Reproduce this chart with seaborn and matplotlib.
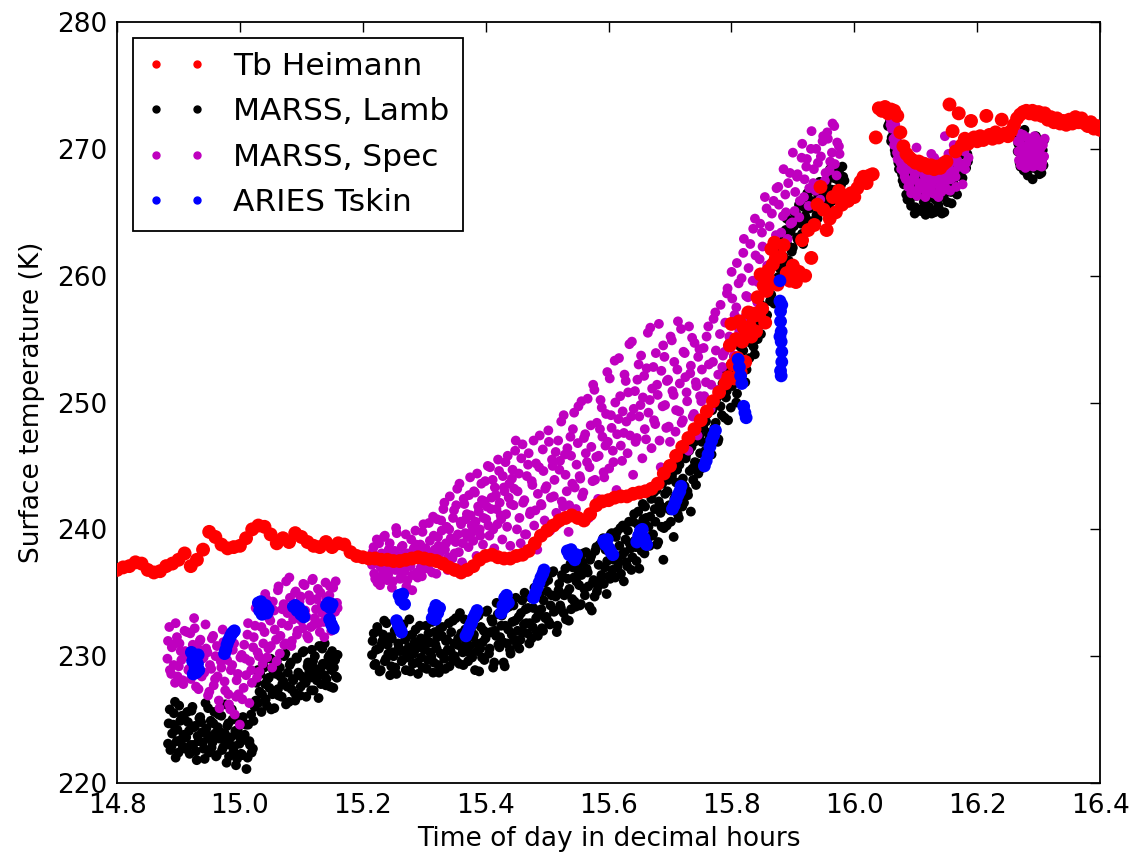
import numpy as np
import matplotlib
matplotlib.use("Agg")
import matplotlib.pyplot as plt
from matplotlib.lines import Line2D
import seaborn as sns

# ---------------------------------------------------------------
# Tb Heimann brightness temperature (K), evenly sampled segments
# ---------------------------------------------------------------
heim_seg1_span = (14.80, 15.79)
heim_seg1 = [236.8, 237.0, 237.1, 237.4, 237.3, 236.8, 236.6, 236.7, 237.1, 237.3,
             237.6, 238.1, 237.1, 237.6, 238.4, 239.8, 239.4, 238.8, 238.5, 238.6,
             238.7, 239.3, 240.0, 240.3, 240.2, 239.6, 238.9, 239.3, 239.0, 239.7,
             239.4, 239.0, 238.7, 238.6, 239.0, 238.6, 238.9, 238.8, 238.2, 237.9,
             237.8, 237.7, 237.7, 237.6, 237.6, 237.5, 237.5, 237.6, 237.7, 237.8,
             237.7, 237.6, 237.5, 237.3, 237.0, 236.8, 236.6, 236.8, 237.1, 237.6,
             237.9, 238.0, 237.8, 237.7, 237.7, 237.9, 238.0, 238.3, 238.9, 239.5,
             239.9, 240.3, 240.7, 240.9, 241.1, 240.9, 240.7, 241.2, 241.9, 242.2,
             242.3, 242.5, 242.6, 242.6, 242.8, 242.9, 243.0, 243.2, 243.6, 244.4,
             245.0, 245.8, 246.5, 247.2, 247.9, 248.6, 249.3, 250.1, 250.8, 251.5]
heim_seg2_span = (15.795, 15.875)
heim_seg2 = [252.0, 254.5, 256.2, 253.0, 251.9, 255.0, 253.5, 256.4, 252.4, 254.8,
             255.9, 253.2, 255.5, 257.1, 256.0, 255.2, 256.8, 257.0, 255.6, 258.3,
             256.9, 260.1, 257.4, 259.2, 256.3, 258.8, 260.4, 259.6, 262.1, 260.9,
             262.6, 261.4, 259.3]
heim_seg3_span = (15.88, 16.03)
heim_seg3 = [261.5, 262.4, 260.2, 259.6, 260.8, 259.5, 260.3, 262.8, 260.0, 263.6,
             261.4, 264.0, 265.6, 267.0, 265.2, 263.6, 264.5, 266.2, 265.0, 266.7,
             265.6, 266.3, 265.9, 266.5, 266.2, 266.9, 267.4, 267.8, 267.3, 267.9,
             268.0]
heim_seg4_span = (16.035, 16.40)
heim_seg4 = [270.9, 273.2, 273.0, 273.3, 272.8, 273.1, 273.0, 272.6, 271.3, 270.2,
             269.6, 269.3, 269.1, 268.9, 269.0, 268.7, 268.8, 268.5, 268.7, 268.4,
             268.6, 268.5, 268.8, 269.0, 273.5, 271.4, 269.8, 272.8, 270.3, 270.8,
             270.4, 272.2, 270.9, 270.6, 271.0, 270.7, 272.6, 271.1, 270.8, 271.3,
             270.9, 272.3, 271.2, 271.0, 271.4, 271.9, 272.4, 272.7, 272.9, 273.0,
             272.8, 273.0, 272.7, 272.9, 272.6, 272.8, 272.3, 272.5, 272.1, 272.4,
             272.0, 272.2, 271.9, 272.3, 272.0, 272.5, 272.1, 272.4, 272.0, 271.8,
             272.1, 271.6, 271.8, 271.5]

# ---------------------------------------------------------------
# MARSS, Lambertian retrieval (K): two interleaved scan views
# ---------------------------------------------------------------
lamb_seg1_span = (14.883, 15.022)
lamb_seg1 = [223.1, 225.8, 222.9, 224.6, 226.4, 223.3, 222.4, 224.9, 225.3, 223.8,
             222.7, 225.6, 224.1, 223.0, 226.0, 224.4, 222.5, 223.7, 225.1, 224.8,
             223.2, 221.9, 224.3, 225.9, 223.5, 222.8, 224.7, 223.9, 222.2, 225.4,
             224.0, 222.6, 223.4, 226.2, 224.5, 222.1, 223.6, 225.0, 222.9, 221.4,
             224.2, 223.1, 222.3, 225.2, 223.8, 221.1, 224.6, 223.0, 222.4, 224.9]
lamb_seg1b_span = (14.884, 15.024)
lamb_seg1b = [224.7, 222.6, 223.9, 225.5, 222.0, 224.2, 226.1, 223.4, 222.9, 225.0,
              223.6, 224.8, 222.3, 225.7, 223.0, 224.5, 221.8, 223.3, 225.2, 224.0,
              222.7, 226.3, 223.8, 222.4, 224.9, 223.2, 225.6, 222.1, 224.4, 223.5,
              225.3, 222.8, 223.9, 221.6, 224.7, 223.0, 225.8, 222.5, 224.1, 221.9,
              223.7, 225.1, 222.2, 223.4, 224.6, 222.0, 223.3, 225.4, 222.7, 226.0]
lamb_seg2_span = (15.026, 15.158)
lamb_seg2 = [226.5, 228.9, 227.2, 225.6, 229.4, 227.8, 226.1, 228.3, 229.8, 227.0,
             225.9, 228.6, 227.4, 229.1, 226.8, 228.0, 230.2, 227.6, 226.4, 229.5,
             228.2, 227.1, 229.9, 228.7, 226.9, 228.4, 230.4, 227.9, 229.2, 228.8,
             227.3, 229.6, 230.0, 228.1, 226.7, 229.0, 230.6, 228.5, 227.7, 229.3,
             230.1, 228.9, 227.5, 229.7, 228.3]
lamb_seg2b_span = (15.027, 15.159)
lamb_seg2b = [227.9, 226.3, 228.6, 227.0, 229.1, 226.6, 228.2, 227.5, 225.8, 228.9,
              227.2, 229.6, 226.9, 228.4, 227.8, 230.0, 226.2, 228.7, 229.3, 227.4,
              228.1, 226.5, 229.8, 228.5, 227.6, 230.3, 228.0, 226.8, 229.5, 228.3,
              230.5, 227.3, 229.0, 228.6, 230.8, 227.8, 229.4, 231.0, 228.2, 229.9,
              227.6, 230.4, 229.1, 228.4, 230.1]
lamb_seg3_span = (15.215, 15.468)
lamb_seg3 = [230.1, 231.8, 229.4, 232.3, 230.6, 228.9, 231.2, 232.8, 229.8, 230.9,
             231.5, 229.2, 230.3, 232.0, 228.6, 231.0, 230.4, 229.6, 232.5, 231.3,
             229.9, 230.7, 228.8, 231.7, 230.2, 232.1, 229.5, 230.8, 231.4, 229.1,
             230.5, 232.4, 229.7, 231.1, 230.0, 228.7, 231.9, 230.6, 229.3, 232.2,
             231.6, 230.1, 229.0, 231.3, 232.6, 230.4, 229.8, 231.0, 233.0, 230.9,
             229.4, 231.8, 230.3, 232.9, 231.2, 229.6, 230.8, 232.3, 231.5, 228.9,
             231.0, 233.2, 230.6, 229.9, 232.0, 231.4, 233.6, 230.2, 231.9, 232.7,
             229.5, 231.6, 233.3, 230.7, 232.4, 231.1, 229.2, 233.8, 232.1, 230.5,
             231.7, 234.0, 232.8, 230.9, 233.1, 231.3, 234.4, 232.5, 233.7, 231.8]
lamb_seg3b_span = (15.216, 15.469)
lamb_seg3b = [231.2, 229.3, 230.5, 232.0, 228.8, 230.9, 231.7, 229.6, 232.6, 230.2,
              228.5, 231.4, 230.0, 229.1, 232.2, 230.7, 231.9, 229.7, 230.4, 228.9,
              231.6, 232.9, 230.1, 229.4, 231.1, 230.6, 228.6, 232.4, 229.9, 231.3,
              230.8, 229.0, 231.8, 230.3, 232.7, 229.5, 230.9, 231.5, 228.7, 230.2,
              232.3, 229.8, 231.2, 230.5, 229.2, 231.9, 232.8, 230.0, 229.6, 231.4,
              233.4, 230.7, 229.3, 232.1, 231.0, 230.3, 232.6, 229.9, 231.7, 233.0,
              230.4, 228.8, 232.3, 231.1, 229.7, 233.5, 231.8, 230.6, 232.9, 229.1,
              232.0, 234.2, 230.9, 231.5, 233.2, 229.5, 232.4, 231.0, 233.9, 230.2,
              232.7, 231.3, 234.6, 232.0, 230.6, 233.4, 231.9, 235.0, 232.6, 233.8]
lamb_seg4_span = (15.471, 15.748)
lamb_seg4 = [231.0, 234.6, 232.3, 235.4, 233.0, 231.6, 234.9, 233.7, 232.0, 235.8,
             233.1, 236.0, 232.5, 234.8, 236.7, 233.6, 231.9, 235.2, 234.0, 236.4,
             233.4, 236.9, 235.0, 232.8, 237.3, 234.5, 236.2, 233.9, 237.8, 235.6,
             234.1, 237.4, 235.3, 238.2, 236.6, 233.9, 237.9, 235.8, 234.7, 238.6,
             235.5, 238.8, 236.4, 239.3, 237.0, 234.9, 238.3, 236.1, 239.7, 237.6,
             236.2, 239.8, 237.4, 240.1, 238.0, 235.9, 239.2, 237.1, 240.6, 238.5,
             237.8, 241.2, 238.6, 240.4, 236.9, 239.9, 242.0, 238.1, 240.9, 239.3,
             238.7, 242.4, 239.6, 241.6, 243.1, 239.0, 241.9, 240.2, 237.6, 242.8,
             240.3, 243.9, 241.5, 244.2, 239.4, 242.6, 244.7, 240.9, 243.3, 241.8,
             242.1, 245.6, 243.0, 246.2, 241.4, 244.8, 246.9, 243.5, 245.2, 247.4]
lamb_seg4b_span = (15.472, 15.749)
lamb_seg4b = [232.6, 231.4, 233.8, 234.9, 231.9, 233.3, 236.0, 232.2, 234.4, 233.0,
              235.1, 232.7, 234.0, 236.6, 233.5, 234.7, 232.4, 235.7, 233.8, 236.2,
              234.8, 232.9, 236.1, 235.3, 233.7, 237.0, 234.3, 235.9, 236.8, 234.0,
              236.4, 238.1, 234.8, 236.9, 235.5, 237.6, 233.6, 236.0, 238.3, 235.1,
              237.2, 236.0, 239.0, 235.7, 238.4, 237.5, 236.3, 239.6, 236.8, 238.0,
              239.4, 237.0, 238.7, 236.5, 240.3, 238.2, 237.4, 239.9, 238.9, 236.8,
              240.6, 239.1, 237.5, 241.4, 239.7, 238.3, 240.8, 241.8, 239.0, 240.2,
              241.0, 239.5, 242.9, 240.6, 238.8, 242.2, 241.3, 243.6, 240.1, 241.7,
              243.0, 241.9, 240.6, 244.5, 242.4, 243.7, 241.2, 245.1, 242.8, 244.0,
              243.4, 245.9, 242.7, 244.6, 246.5, 243.9, 245.3, 247.8, 244.4, 246.0]
lamb_seg5_span = (15.751, 15.982)
lamb_seg5 = [244.8, 248.0, 246.2, 249.1, 247.3, 245.9, 249.8, 248.4, 246.9, 250.6,
             249.0, 252.2, 250.4, 248.6, 252.9, 251.3, 253.6, 250.0, 252.5, 254.4,
             253.0, 255.8, 252.6, 256.3, 254.7, 257.1, 253.8, 256.0, 258.2, 255.4,
             257.6, 259.8, 256.9, 260.4, 258.5, 261.2, 259.3, 262.0, 260.6, 263.1,
             261.5, 263.6, 262.4, 264.3, 261.9, 263.9, 265.0, 262.8, 264.6, 263.3,
             265.4, 264.0, 266.1, 263.7, 265.6, 266.7, 264.8, 266.3, 265.2, 267.0,
             266.0, 267.4, 265.5, 266.8, 267.9, 266.4, 267.6, 268.1, 267.2, 267.8]
lamb_seg5b_span = (15.752, 15.984)
lamb_seg5b = [246.9, 245.3, 248.5, 247.6, 246.0, 249.4, 248.0, 250.3, 247.1, 249.7,
              251.5, 248.8, 250.9, 252.6, 249.6, 251.8, 253.3, 250.7, 254.8, 252.0,
              254.1, 251.6, 255.3, 253.5, 257.0, 254.4, 256.7, 255.0, 257.8, 256.2,
              258.9, 256.5, 259.6, 258.0, 260.9, 257.8, 261.9, 259.9, 262.7, 261.0,
              262.6, 264.5, 261.2, 263.5, 262.2, 264.9, 263.0, 265.6, 264.1, 262.5,
              264.7, 266.5, 265.3, 264.3, 266.9, 265.9, 264.5, 267.4, 266.6, 265.8,
              267.2, 266.3, 268.4, 265.9, 267.7, 266.8, 268.2, 267.0, 268.6, 267.5]
lamb_seg6_span = (16.055, 16.185)
lamb_seg6 = [271.8, 272.3, 270.9, 271.2, 269.6, 270.3, 268.4, 269.1, 267.5, 268.6,
             266.4, 267.8, 265.9, 267.0, 268.2, 265.4, 266.6, 267.4, 265.1, 266.9,
             268.0, 265.6, 267.2, 266.2, 264.9, 267.6, 266.0, 268.4, 265.3, 267.1,
             266.5, 265.0, 267.9, 266.8, 268.7, 265.7, 267.3, 269.2, 266.4, 268.1,
             269.6, 267.7, 270.2, 268.5, 269.0]
lamb_seg6b_span = (16.057, 16.187)
lamb_seg6b = [272.0, 270.6, 271.5, 269.9, 270.8, 268.9, 269.8, 268.0, 267.2, 268.9,
              266.0, 267.5, 265.5, 266.9, 264.9, 266.3, 267.9, 265.2, 266.7, 265.8,
              264.8, 267.0, 265.4, 266.4, 268.1, 265.0, 266.8, 265.6, 267.7, 264.9,
              266.2, 268.3, 265.8, 267.4, 266.6, 268.6, 267.1, 269.0, 267.9, 269.5,
              268.3, 270.0, 268.8, 269.6, 270.4]
lamb_seg7_span = (16.266, 16.308)
lamb_seg7 = [269.8, 271.0, 268.6, 270.3, 269.1, 271.5, 268.2, 269.9, 270.7, 268.9,
             270.0, 267.6, 269.4, 270.9, 268.4, 269.7, 268.0, 270.4, 269.2, 268.7]
lamb_seg7b_span = (16.267, 16.309)
lamb_seg7b = [270.4, 268.9, 269.6, 271.2, 268.3, 270.1, 269.4, 267.9, 270.6, 269.0,
              268.5, 270.2, 269.7, 271.0, 268.8, 270.3, 269.3, 268.1, 269.9, 270.7]

# ---------------------------------------------------------------
# MARSS, specular retrieval (K): two interleaved scan views
# ---------------------------------------------------------------
spec_seg1_span = (14.882, 15.158)
spec_seg1 = [229.8, 232.3, 228.6, 230.9, 227.9, 231.5, 229.2, 230.4, 228.1, 232.0,
             230.0, 228.9, 231.8, 229.5, 233.0, 227.6, 230.6, 231.2, 228.4, 229.9,
             232.5, 230.3, 227.2, 229.0, 231.6, 228.2, 230.8, 226.5, 229.6, 232.1,
             228.0, 230.5, 227.0, 225.8, 229.3, 231.0, 226.8, 228.6, 224.6, 230.1,
             227.5, 229.8, 231.7, 226.3, 228.9, 230.7, 232.4, 228.3, 230.0, 233.3,
             229.4, 231.9, 234.5, 230.6, 232.8, 229.1, 233.6, 231.3, 235.2, 230.2,
             232.6, 234.1, 231.0, 233.4, 236.2, 230.8, 232.9, 235.0, 231.7, 233.9,
             234.7, 232.2, 235.6, 233.1, 231.4, 234.4, 236.0, 232.5, 233.7, 235.3,
             231.9, 234.0, 232.7, 235.8, 233.2, 234.8, 232.0, 235.4, 233.5, 234.2]
spec_seg1b_span = (14.883, 15.159)
spec_seg1b = [231.2, 228.9, 230.7, 229.3, 232.6, 228.4, 231.0, 229.7, 227.8, 230.4,
              231.9, 229.0, 228.2, 230.9, 232.2, 229.5, 227.4, 231.3, 229.8, 228.7,
              230.6, 226.9, 229.3, 231.4, 227.7, 230.0, 228.4, 225.9, 229.1, 231.1,
              227.3, 229.7, 226.2, 228.9, 230.5, 225.4, 228.1, 227.0, 229.9, 226.6,
              230.9, 228.5, 232.6, 229.6, 227.9, 231.5, 233.8, 230.3, 228.8, 232.3,
              231.0, 234.9, 229.9, 233.0, 230.8, 234.3, 232.1, 229.6, 235.5, 231.6,
              233.7, 230.9, 235.9, 232.4, 234.6, 231.2, 233.3, 235.1, 232.0, 234.3,
              232.8, 235.7, 233.6, 231.6, 234.8, 232.3, 236.1, 233.0, 234.5, 232.6,
              235.0, 233.4, 231.5, 234.6, 233.0, 235.5, 232.4, 234.1, 235.9, 233.8]
spec_seg2_span = (15.215, 15.448)
spec_seg2 = [237.2, 238.6, 236.1, 239.2, 237.8, 235.6, 238.1, 236.7, 239.5, 237.0,
             236.4, 238.9, 237.5, 235.9, 238.3, 240.1, 236.8, 237.9, 236.2, 238.7,
             237.3, 239.6, 236.0, 238.0, 237.1, 235.2, 238.5, 239.9, 236.6, 237.7,
             238.8, 236.3, 240.4, 237.4, 238.2, 236.9, 239.1, 237.6, 241.0, 238.4,
             236.5, 239.4, 238.1, 240.7, 237.2, 242.1, 238.9, 236.8, 240.0, 239.3,
             237.7, 241.5, 239.0, 243.2, 238.2, 240.6, 237.4, 242.4, 239.7, 241.2,
             238.6, 244.1, 240.3, 239.1, 242.9, 237.9, 241.8, 240.0, 243.6, 238.8,
             242.2, 240.8, 245.0, 239.5, 241.6, 243.9, 238.5, 242.7, 240.4, 244.6,
             241.1, 239.2, 243.3, 245.3, 240.2, 242.5, 238.7, 244.0, 241.9, 246.2]
spec_seg2b_span = (15.216, 15.449)
spec_seg2b = [238.2, 236.5, 237.7, 235.8, 238.9, 237.0, 236.3, 239.4, 237.5, 236.0,
              238.4, 237.1, 235.4, 238.0, 236.8, 239.7, 237.4, 236.1, 238.6, 237.9,
              236.7, 235.5, 238.1, 237.3, 239.2, 236.4, 237.8, 238.8, 236.2, 238.3,
              237.0, 239.8, 236.9, 238.5, 237.5, 240.5, 238.0, 236.6, 239.5, 237.9,
              240.8, 238.7, 237.3, 239.9, 241.6, 238.4, 240.2, 237.8, 242.6, 239.2,
              240.9, 238.1, 241.9, 239.6, 243.6, 240.4, 238.9, 242.0, 240.8, 239.4,
              242.7, 241.1, 239.8, 243.0, 240.6, 244.4, 241.4, 239.5, 242.3, 240.9,
              243.8, 241.8, 240.3, 244.9, 242.5, 240.0, 243.3, 241.6, 245.5, 242.1,
              240.8, 244.2, 243.0, 241.2, 245.8, 243.6, 242.0, 244.7, 243.2, 247.0]
spec_seg3_span = (15.451, 15.748)
spec_seg3 = [240.0, 244.4, 238.9, 246.7, 242.3, 239.6, 245.1, 241.2, 243.8, 247.0,
             241.5, 238.4, 244.9, 242.0, 246.3, 240.7, 243.4, 247.8, 239.9, 245.5,
             242.6, 246.1, 240.4, 244.7, 248.5, 241.8, 245.9, 243.0, 239.8, 247.3,
             243.6, 249.2, 241.6, 246.8, 244.2, 250.1, 242.9, 247.5, 245.3, 240.9,
             248.2, 243.8, 251.0, 245.7, 242.4, 247.9, 249.6, 244.5, 246.6, 252.4,
             244.8, 249.0, 246.2, 253.3, 243.1, 248.7, 250.5, 245.4, 247.6, 251.7,
             246.0, 254.6, 248.9, 244.3, 250.9, 247.2, 253.0, 249.8, 245.6, 252.1,
             247.1, 255.5, 250.2, 246.4, 252.8, 248.3, 251.4, 256.2, 244.9, 249.7,
             253.6, 248.0, 251.8, 246.9, 254.9, 250.6, 247.7, 252.6, 249.3, 255.8,
             248.6, 253.9, 250.8, 246.2, 252.3, 255.1, 249.1, 251.6, 247.4, 254.2]
spec_seg3b_span = (15.452, 15.749)
spec_seg3b = [243.0, 240.9, 245.6, 242.1, 239.6, 244.2, 246.0, 241.4, 243.5, 240.3,
              245.2, 242.8, 247.4, 241.9, 244.6, 243.2, 239.9, 246.9, 242.5, 245.0,
              243.9, 241.3, 247.0, 245.4, 242.2, 249.0, 244.3, 246.4, 241.9, 245.8,
              247.9, 243.3, 245.1, 249.7, 244.0, 242.6, 247.2, 246.0, 250.3, 244.9,
              246.5, 251.4, 243.9, 248.4, 245.8, 250.2, 247.3, 244.1, 249.1, 246.9,
              251.9, 248.0, 245.3, 250.0, 247.5, 253.5, 246.6, 249.3, 252.2, 248.5,
              250.8, 247.4, 254.8, 249.5, 246.9, 251.8, 248.9, 253.7, 250.4, 247.9,
              252.7, 249.2, 255.9, 251.1, 248.6, 253.9, 250.6, 247.0, 252.5, 254.5,
              249.8, 251.7, 248.1, 255.2, 250.9, 253.2, 249.4, 256.4, 251.5, 248.4,
              254.0, 252.0, 250.1, 256.0, 252.9, 248.9, 254.7, 251.3, 253.6, 250.5]
spec_seg4_span = (15.751, 15.975)
spec_seg4 = [250.1, 254.3, 251.6, 256.0, 249.5, 253.2, 257.1, 251.0, 255.4, 252.8,
             254.0, 258.6, 255.2, 260.3, 253.7, 257.5, 259.4, 255.9, 261.8, 256.8,
             258.3, 262.5, 259.6, 264.5, 257.9, 261.3, 263.4, 259.1, 265.3, 260.7,
             262.0, 265.9, 263.2, 267.0, 261.6, 264.7, 266.4, 262.9, 268.1, 264.2,
             265.1, 267.8, 264.6, 269.3, 266.2, 268.6, 265.5, 270.0, 267.3, 266.7,
             268.9, 266.0, 270.6, 267.5, 271.3, 268.3, 269.7, 271.8, 267.9, 270.2]
spec_seg4b_span = (15.752, 15.976)
spec_seg4b = [252.6, 250.5, 255.2, 253.0, 251.4, 256.6, 254.1, 252.2, 257.7, 253.7,
              256.3, 259.0, 254.8, 258.2, 256.9, 261.0, 255.6, 259.8, 262.9, 258.4,
              260.6, 257.2, 263.7, 261.6, 259.5, 264.1, 262.3, 266.2, 260.8, 263.9,
              264.9, 262.7, 266.9, 265.6, 263.4, 268.4, 265.0, 267.3, 264.1, 269.7,
              266.6, 268.0, 265.9, 270.4, 267.6, 269.2, 266.9, 271.4, 268.4, 270.0,
              267.2, 269.4, 271.0, 268.1, 270.8, 269.0, 272.0, 268.8, 270.5, 269.6]
spec_seg5_span = (16.058, 16.185)
spec_seg5 = [272.4, 271.6, 270.8, 271.9, 269.7, 270.4, 268.9, 269.5, 268.1, 267.6,
             268.8, 267.1, 266.5, 268.3, 267.9, 270.1, 266.8, 268.5, 267.3, 269.0,
             266.2, 267.7, 268.7, 266.9, 267.4, 269.3, 266.4, 268.0, 267.0, 266.6,
             268.4, 271.0, 267.5, 269.6, 266.7, 268.2, 270.3, 267.8, 269.1, 268.6,
             270.0, 267.2, 269.8, 268.9, 270.5]
spec_seg5b_span = (16.059, 16.186)
spec_seg5b = [271.9, 272.2, 270.3, 271.0, 269.2, 270.0, 268.4, 269.1, 267.8, 268.5,
              267.0, 269.3, 266.7, 267.6, 268.1, 266.3, 267.3, 268.9, 266.9, 267.9,
              266.6, 268.3, 267.1, 269.6, 266.5, 267.7, 268.5, 266.2, 267.5, 269.0,
              267.3, 268.0, 266.8, 268.7, 267.6, 269.4, 268.2, 267.0, 268.8, 270.2,
              268.6, 269.9, 268.4, 270.7, 269.3]
spec_seg6_span = (16.266, 16.310)
spec_seg6 = [270.6, 269.1, 271.2, 268.8, 270.0, 269.5, 268.5, 270.9, 269.3, 268.9,
             270.3, 269.8, 268.6, 271.0, 269.0, 270.4, 268.7, 269.6, 270.1, 268.9,
             269.4, 270.8]
spec_seg6b_span = (16.267, 16.309)
spec_seg6b = [269.8, 270.5, 268.7, 269.9, 271.1, 269.2, 270.2, 268.6, 269.6, 270.7,
              269.0, 268.8, 270.1, 269.5, 270.9, 268.9, 269.7, 270.4, 269.1, 268.6,
              270.3, 269.4]

# ---------------------------------------------------------------
# ARIES skin temperature (K): short bursts of samples
# ---------------------------------------------------------------
aries_time = [14.921, 14.923, 14.925, 14.927, 14.929, 14.931, 14.933, 14.924, 14.928, 14.932,
              14.975, 14.977, 14.979, 14.981, 14.983, 14.985, 14.987, 14.989, 14.991,
              15.030, 15.032, 15.034, 15.036, 15.038, 15.040, 15.042, 15.044, 15.046,
              15.087, 15.090, 15.093, 15.096, 15.099, 15.102, 15.104,
              15.141, 15.144, 15.147, 15.150, 15.146, 15.149, 15.152,
              15.259, 15.262, 15.265, 15.268, 15.255, 15.258, 15.261, 15.263,
              15.313, 15.316, 15.319, 15.322, 15.325, 15.318,
              15.368, 15.371, 15.374, 15.377, 15.380, 15.383, 15.386,
              15.425, 15.428, 15.431, 15.434, 15.437, 15.430,
              15.478, 15.481, 15.484, 15.487, 15.490, 15.493, 15.495,
              15.533, 15.536, 15.539, 15.542, 15.545, 15.548,
              15.592, 15.595, 15.598, 15.601, 15.604, 15.607,
              15.646, 15.649, 15.652, 15.655, 15.658, 15.662,
              15.704, 15.707, 15.710, 15.713, 15.716, 15.718,
              15.756, 15.759, 15.762, 15.765, 15.768, 15.771, 15.774,
              15.811, 15.813, 15.815, 15.817,
              15.820, 15.822, 15.824,
              15.879, 15.879, 15.880, 15.880, 15.881, 15.881, 15.882, 15.882, 15.880, 15.881,
              15.879, 15.882]
aries_temp = [230.3, 229.6, 230.0, 229.1, 228.7, 229.4, 228.9, 228.6, 229.8, 230.1,
              230.2, 230.5, 230.9, 231.2, 231.4, 231.6, 231.8, 231.9, 232.0,
              234.2, 233.6, 234.3, 233.3, 233.9, 233.5, 234.0, 233.4, 233.7,
              233.9, 234.0, 233.6, 233.8, 233.3, 233.5, 233.1,
              234.0, 234.2, 233.8, 234.1, 232.9, 232.5, 232.2,
              234.8, 234.4, 234.9, 234.1, 232.8, 232.4, 232.1, 231.9,
              233.0, 233.6, 234.0, 233.4, 233.8, 232.9,
              231.6, 231.9, 232.3, 232.6, 233.0, 233.3, 233.6,
              233.4, 234.0, 234.6, 234.8, 234.2, 233.8,
              234.6, 235.0, 235.4, 235.8, 236.2, 236.5, 236.8,
              238.3, 238.0, 238.4, 237.8, 237.6, 238.0,
              239.1, 238.8, 239.2, 238.5, 238.2, 238.0,
              239.0, 239.5, 239.9, 240.0, 239.3, 238.8,
              241.6, 241.9, 242.3, 242.7, 243.0, 243.4,
              245.0, 245.4, 245.9, 246.5, 247.0, 247.4, 247.8,
              253.4, 252.8, 252.1, 251.5,
              249.7, 249.2, 248.8,
              259.6, 258.0, 257.2, 256.4, 255.6, 254.8, 254.0, 253.2, 252.5, 252.1,
              255.2, 257.7]

series_labels = ["Tb Heimann", "MARSS, Lamb", "MARSS, Spec", "ARIES Tskin"]
series_colors = ["#ff0000", "#000000", "#bf00bf", "#0000ff"]
x_ticks = [14.8, 15.0, 15.2, 15.4, 15.6, 15.8, 16.0, 16.2, 16.4]
y_ticks = [220, 230, 240, 250, 260, 270, 280]


def sampled(segments):
    """Join evenly sampled segments into (time, value) arrays."""
    t_parts, v_parts = [], []
    for (t0, t1), vals in segments:
        t_parts.append(np.linspace(t0, t1, len(vals)))
        v_parts.append(np.asarray(vals, dtype=float))
    return np.concatenate(t_parts), np.concatenate(v_parts)


heim_t, heim_v = sampled([(heim_seg1_span, heim_seg1), (heim_seg2_span, heim_seg2),
                          (heim_seg3_span, heim_seg3), (heim_seg4_span, heim_seg4)])
lamb_t, lamb_v = sampled([(lamb_seg1_span, lamb_seg1), (lamb_seg1b_span, lamb_seg1b),
                          (lamb_seg2_span, lamb_seg2), (lamb_seg2b_span, lamb_seg2b),
                          (lamb_seg3_span, lamb_seg3), (lamb_seg3b_span, lamb_seg3b),
                          (lamb_seg4_span, lamb_seg4), (lamb_seg4b_span, lamb_seg4b),
                          (lamb_seg5_span, lamb_seg5), (lamb_seg5b_span, lamb_seg5b),
                          (lamb_seg6_span, lamb_seg6), (lamb_seg6b_span, lamb_seg6b),
                          (lamb_seg7_span, lamb_seg7), (lamb_seg7b_span, lamb_seg7b)])
spec_t, spec_v = sampled([(spec_seg1_span, spec_seg1), (spec_seg1b_span, spec_seg1b),
                          (spec_seg2_span, spec_seg2), (spec_seg2b_span, spec_seg2b),
                          (spec_seg3_span, spec_seg3), (spec_seg3b_span, spec_seg3b),
                          (spec_seg4_span, spec_seg4), (spec_seg4b_span, spec_seg4b),
                          (spec_seg5_span, spec_seg5), (spec_seg5b_span, spec_seg5b),
                          (spec_seg6_span, spec_seg6), (spec_seg6b_span, spec_seg6b)])
aries_t = np.asarray(aries_time)
aries_v = np.asarray(aries_temp)

sns.set_theme(style="white")
plt.rcParams["font.family"] = ["DejaVu Sans"]
plt.rcParams.update({
    "text.color": "black", "axes.labelcolor": "black",
    "xtick.direction": "in", "ytick.direction": "in",
    "xtick.top": True, "ytick.right": True,
    "xtick.major.size": 7, "ytick.major.size": 7,
    "xtick.major.width": 1.0, "ytick.major.width": 1.0,
    "xtick.color": "black", "ytick.color": "black",
    "xtick.labelcolor": "black", "ytick.labelcolor": "black",
    "axes.edgecolor": "black", "axes.linewidth": 1.3,
})

fig = plt.figure(figsize=(11.33, 8.61), dpi=100)
ax = fig.add_axes([0.1033, 0.0906, 0.9709 - 0.1033, 0.9744 - 0.0906])

# (time, value), colour, marker area, stacking order
layers = [((heim_t, heim_v), series_colors[0], 100, 4),
          ((lamb_t, lamb_v), series_colors[1], 50, 2),
          ((spec_t, spec_v), series_colors[2], 50, 3),
          ((aries_t, aries_v), series_colors[3], 85, 5)]
for (t, v), col, s, z in layers:
    sns.scatterplot(x=t, y=v, ax=ax, color=col, s=s, linewidth=0,
                    edgecolor="none", legend=False, zorder=z)

ax.set_xlim(14.8, 16.4)
ax.set_ylim(220, 280)
ax.set_xticks(x_ticks)
ax.set_xticklabels([f"{v:.1f}" for v in x_ticks])
ax.set_yticks(y_ticks)
ax.set_yticklabels([str(v) for v in y_ticks])
ax.tick_params(labelsize=19, pad=7)
ax.set_xlabel("Time of day in decimal hours", fontsize=19, labelpad=5)
ax.set_ylabel("Surface temperature (K)", fontsize=19, labelpad=9)
for sp in ax.spines.values():
    sp.set_visible(True)
    sp.set_color("black")

handles = [Line2D([0], [0], linestyle="none", marker="o", markersize=5,
                  markerfacecolor=c, markeredgecolor=c) for c in series_colors]
leg = ax.legend(handles, series_labels, loc="upper left", numpoints=2,
                fontsize=22.5, frameon=True, fancybox=False, edgecolor="black",
                framealpha=1, borderaxespad=0.5, handlelength=1.9,
                handletextpad=0.85, labelspacing=0.53, borderpad=0.45)
leg.get_frame().set_linewidth(1.3)
leg.set_zorder(10)

fig.savefig("out.png", dpi=100)
